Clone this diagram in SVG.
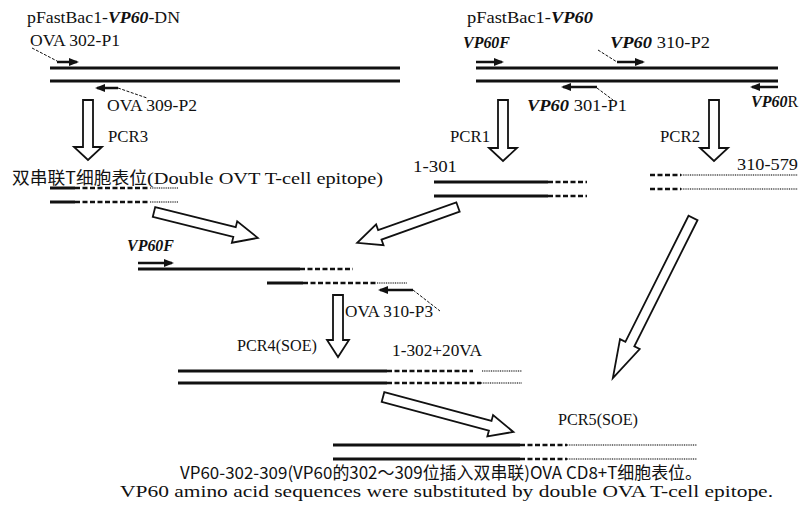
<svg xmlns="http://www.w3.org/2000/svg" width="800" height="510" viewBox="0 0 800 510">
<style>
.t{font-family:"Liberation Serif","Noto Sans CJK SC",serif;font-size:17px;fill:#111}
.cjk{font-family:"Noto Sans CJK SC","Liberation Serif",serif;font-size:17px;fill:#111}
.bi{font-weight:bold;font-style:italic}
.s{stroke:#111;stroke-width:3;fill:none}
.d{stroke:#111;stroke-width:2.6;fill:none;stroke-dasharray:5 2.5}
.o{stroke:#777;stroke-width:2.2;fill:none;stroke-dasharray:1 0.8}
.p{stroke:#111;stroke-width:2.5;fill:none;marker-end:url(#ph)}
.l{stroke:#111;stroke-width:1;fill:none;stroke-dasharray:3 1.5}
.ha{fill:#fff;stroke:#111;stroke-width:1.8;stroke-linejoin:miter}
</style>
<defs>
<marker id="ph" viewBox="0 0 10 8" refX="8" refY="4" markerWidth="10" markerHeight="8" markerUnits="userSpaceOnUse" orient="auto">
<path d="M0,0 L10,4 L0,8 z" fill="#111"/>
</marker>
</defs>
<rect width="800" height="510" fill="#fff"/>

<g id="construct-dn">
<text class="t" x="27" y="23" textLength="153" lengthAdjust="spacingAndGlyphs">pFastBac1-<tspan class="bi">VP60</tspan>-DN</text>
<text class="t" x="30" y="46" textLength="90" lengthAdjust="spacingAndGlyphs">OVA 302-P1</text>
<path class="l" d="M32,48 L57,61"/>
<path class="p" d="M57,62 L77,62"/>
<path class="s" d="M50,68 H400"/>
<path class="s" d="M50,81 H400"/>
<path class="p" d="M118,88 L97,88"/>
<path class="l" d="M118,88 L147,98"/>
<text class="t" x="107" y="111" textLength="90" lengthAdjust="spacingAndGlyphs">OVA 309-P2</text>
</g>

<g id="construct-vp60">
<text class="t" x="467" y="23" textLength="126" lengthAdjust="spacingAndGlyphs">pFastBac1-<tspan class="bi">VP60</tspan></text>
<text class="t bi" x="463" y="48" textLength="47" lengthAdjust="spacingAndGlyphs">VP60F</text>
<path class="p" d="M476,62 L502,62"/>
<text class="t" x="610" y="48" textLength="100" lengthAdjust="spacingAndGlyphs"><tspan class="bi">VP60</tspan> 310-P2</text>
<path class="l" d="M598,50 L617,62"/>
<path class="p" d="M617,62 L643,62"/>
<path class="s" d="M476,68 H778"/>
<path class="s" d="M476,81 H778"/>
<path class="p" d="M597,87 L563,87"/>
<path class="l" d="M597,88 L613,100"/>
<text class="t" x="527" y="111" textLength="100" lengthAdjust="spacingAndGlyphs"><tspan class="bi">VP60</tspan> 301-P1</text>
<path class="p" d="M778,87 L752,87"/>
<text class="t" x="751" y="107" style="font-size:16px"><tspan class="bi">VP60</tspan>R</text>
</g>

<g id="double-epitope">
<text class="cjk" x="12" y="184" textLength="135" lengthAdjust="spacingAndGlyphs">双串联T细胞表位</text>
<text class="t" x="147" y="184" textLength="236" lengthAdjust="spacingAndGlyphs">(Double OVT T-cell epitope)</text>
<path class="s" d="M50,188 H75"/><path class="d" d="M75,188 H150"/><path class="o" d="M150,188 H178"/>
<path class="s" d="M50,202 H75"/><path class="d" d="M75,202 H150"/><path class="o" d="M150,202 H178"/>
</g>

<g id="frag-1-301">
<text class="t" x="413" y="172" textLength="44" lengthAdjust="spacingAndGlyphs">1-301</text>
<path class="s" d="M434,182 H548"/><path class="d" d="M548,182 H587"/>
<path class="s" d="M434,196 H548"/><path class="d" d="M548,196 H587"/>
</g>

<g id="frag-310-579">
<text class="t" x="737" y="170" textLength="61" lengthAdjust="spacingAndGlyphs">310-579</text>
<path class="d" d="M650,175 H681"/><path class="o" d="M681,175 H798"/>
<path class="d" d="M650,189 H681"/><path class="o" d="M681,189 H798"/>
</g>

<g id="soe-template">
<text class="t bi" x="127" y="251" textLength="47" lengthAdjust="spacingAndGlyphs">VP60F</text>
<path class="p" d="M138,263 L172,263"/>
<path class="s" d="M138,269 H300"/><path class="d" d="M300,269 H353"/>
<path class="s" d="M267,283 H303"/><path class="d" d="M303,283 H377"/><path class="o" d="M377,283 H407"/>
<path class="p" d="M413,290 L380,290"/>
<path class="l" d="M413,290 L440,311"/>
<text class="t" x="345" y="317" textLength="88" lengthAdjust="spacingAndGlyphs">OVA 310-P3</text>
</g>

<g id="frag-1-302-20va">
<text class="t" x="392" y="356" textLength="90" lengthAdjust="spacingAndGlyphs">1-302+20VA</text>
<path class="s" d="M178,371 H387"/><path class="d" d="M387,371 H473"/><path class="o" d="M482,371 H522"/>
<path class="s" d="M178,383 H387"/><path class="d" d="M387,383 H481"/><path class="o" d="M481,383 H522"/>
</g>

<g id="final-product">
<path class="s" d="M333,445 H520"/><path class="d" d="M520,445 H567"/><path class="o" d="M567,445 H697"/>
<path class="s" d="M333,459 H520"/><path class="d" d="M520,459 H567"/><path class="o" d="M567,459 H697"/>
</g>

<g id="connectors">
<polygon class="ha" points="83,100 93,100 93,147 102,147 88,160 74,147 83,147"/>
<text class="t" x="108" y="142" textLength="40" lengthAdjust="spacingAndGlyphs">PCR3</text>
<polygon class="ha" points="498,100 508,100 508,148 517,148 503,161 489,148 498,148"/>
<text class="t" x="450" y="142" textLength="40" lengthAdjust="spacingAndGlyphs">PCR1</text>
<polygon class="ha" points="709,100 719,100 719,148 728,148 714,161 700,148 709,148"/>
<text class="t" x="660" y="142" textLength="40" lengthAdjust="spacingAndGlyphs">PCR2</text>
<polygon class="ha" points="333,295 343,295 343,340 349,340 338,357 327,340 333,340"/>
<text class="t" x="237" y="351" textLength="80" lengthAdjust="spacingAndGlyphs">PCR4(SOE)</text>
<text class="t" x="558" y="425" textLength="80" lengthAdjust="spacingAndGlyphs">PCR5(SOE)</text>
<g transform="translate(154,212) rotate(14)"><polygon class="ha" points="0,-5 83,-5 83,-11 107,0 83,11 83,5 0,5"/></g>
<g transform="translate(458,207) rotate(160.4)"><polygon class="ha" points="0,-5 83,-5 83,-11 107,0 83,11 83,5 0,5"/></g>
<g transform="translate(383,397) rotate(15)"><polygon class="ha" points="0,-5 111,-5 111,-11 135,0 111,11 111,5 0,5"/></g>
<g transform="translate(693,218) rotate(116.6)"><polygon class="ha" points="0,-5 141,-5 141,-11 179,0 141,11 141,5 0,5"/></g>
</g>

<g id="caption">
<text class="cjk" x="180" y="479" textLength="522" lengthAdjust="spacingAndGlyphs">VP60-302-309(VP60的302～309位插入双串联)OVA CD8+T细胞表位。</text>
<text class="t" x="120" y="497" textLength="653" lengthAdjust="spacingAndGlyphs">VP60 amino acid sequences were substituted by double OVA T-cell epitope.</text>
</g>
</svg>
